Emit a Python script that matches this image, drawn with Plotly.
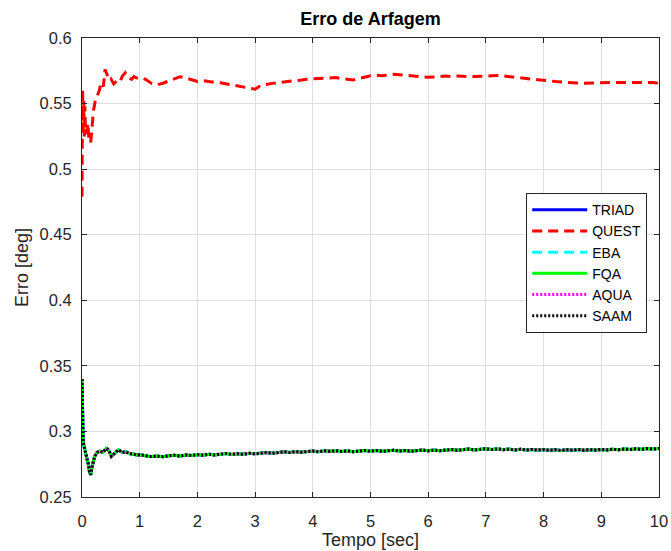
import plotly.graph_objects as go

# ---------------- data ----------------
# QUEST (red dashed)
quest_t = [0, 0.005, 0.01, 0.02, 0.03, 0.04, 0.05, 0.06, 0.08, 0.10, 0.12, 0.15, 0.17,
           0.20, 0.23, 0.27, 0.30, 0.33, 0.37, 0.40, 0.43, 0.47, 0.50, 0.55, 0.60, 0.65,
           0.70, 0.75, 0.80, 0.86, 0.90, 0.95,
           1.0, 1.1, 1.2, 1.3, 1.4, 1.5, 1.6, 1.7, 1.8, 1.9,
           2.0, 2.1, 2.2, 2.3, 2.4, 2.5, 2.6, 2.7, 2.8, 2.9,
           3.0, 3.1, 3.2, 3.3, 3.4, 3.5, 3.6, 3.7, 3.8, 3.9,
           4.0, 4.1, 4.2, 4.3, 4.4, 4.5, 4.6, 4.7, 4.8, 4.9,
           5.0, 5.1, 5.2, 5.3, 5.4, 5.5, 5.6, 5.7, 5.8, 5.9,
           6.0, 6.1, 6.2, 6.3, 6.4, 6.5, 6.6, 6.7, 6.8, 6.9,
           7.0, 7.1, 7.2, 7.3, 7.4, 7.5, 7.6, 7.7, 7.8, 7.9,
           8.0, 8.1, 8.2, 8.3, 8.4, 8.5, 8.6, 8.7, 8.8, 8.9,
           9.0, 9.1, 9.2, 9.3, 9.4, 9.5, 9.6, 9.7, 9.8, 9.9, 10.0]
quest_v = [0.479, 0.500, 0.562, 0.530, 0.552, 0.525, 0.548, 0.530, 0.527, 0.535, 0.523, 0.520, 0.530,
           0.545, 0.552, 0.556, 0.560, 0.566, 0.563, 0.576, 0.572, 0.568, 0.569, 0.565, 0.567, 0.566,
           0.571, 0.5735, 0.570, 0.5685, 0.5705, 0.5695,
           0.5700, 0.5685, 0.5655, 0.5642, 0.5655, 0.5672, 0.5690, 0.5705, 0.5695, 0.5680,
           0.5668, 0.5674, 0.5666, 0.5662, 0.5658, 0.5650, 0.5644, 0.5636, 0.5628, 0.5618,
           0.5610, 0.5640, 0.5649, 0.5654, 0.5660, 0.5664, 0.5667, 0.5672, 0.5680, 0.5686,
           0.5689, 0.5693, 0.5697, 0.5700, 0.5698, 0.5690, 0.5684, 0.5680, 0.5692, 0.5703,
           0.5712, 0.5716, 0.5712, 0.5718, 0.5723, 0.5720, 0.5716, 0.5712, 0.5708, 0.5704,
           0.5700, 0.5703, 0.5707, 0.5710, 0.5706, 0.5710, 0.5708, 0.5704, 0.5706, 0.5705,
           0.5709, 0.5713, 0.5715, 0.5711, 0.5705, 0.5699, 0.5693, 0.5689, 0.5686, 0.5682,
           0.5680, 0.5674, 0.5668, 0.5664, 0.5660, 0.5657, 0.5656, 0.5655, 0.5657, 0.5659,
           0.5660, 0.5661, 0.5662, 0.5661, 0.5662, 0.5661, 0.5660, 0.5660, 0.5661, 0.5660, 0.5655]

# TRIAD, EBA, FQA, AQUA, SAAM (overlapping lower curves)
lower_t = [0, 0.01, 0.02, 0.05, 0.08, 0.11, 0.13, 0.15, 0.18, 0.22, 0.26, 0.31, 0.36, 0.42,
           0.46, 0.51, 0.56, 0.63, 0.70, 0.76, 0.83, 0.90, 0.95,
           1.0, 1.1, 1.2, 1.3, 1.4, 1.5, 1.6, 1.7, 1.8, 1.9,
           2.0, 2.1, 2.2, 2.3, 2.4, 2.5, 2.6, 2.7, 2.8, 2.9,
           3.0, 3.1, 3.2, 3.3, 3.4, 3.5, 3.6, 3.7, 3.8, 3.9,
           4.0, 4.1, 4.2, 4.3, 4.4, 4.5, 4.6, 4.7, 4.8, 4.9,
           5.0, 5.1, 5.2, 5.3, 5.4, 5.5, 5.6, 5.7, 5.8, 5.9,
           6.0, 6.1, 6.2, 6.3, 6.4, 6.5, 6.6, 6.7, 6.8, 6.9,
           7.0, 7.1, 7.2, 7.3, 7.4, 7.5, 7.6, 7.7, 7.8, 7.9,
           8.0, 8.1, 8.2, 8.3, 8.4, 8.5, 8.6, 8.7, 8.8, 8.9,
           9.0, 9.1, 9.2, 9.3, 9.4, 9.5, 9.6, 9.7, 9.8, 9.9, 10.0]
triad_v = [0.340, 0.318, 0.292, 0.286, 0.281, 0.275, 0.269, 0.267, 0.274, 0.281, 0.284, 0.285, 0.284,
           0.287, 0.286, 0.281, 0.283, 0.286, 0.284, 0.2845, 0.2830, 0.2828, 0.2818,
           0.2822, 0.2815, 0.2808, 0.2812, 0.2807, 0.2814, 0.2818, 0.2812, 0.2820, 0.2816,
           0.2823, 0.2819, 0.2826, 0.2821, 0.2828, 0.2832, 0.2825, 0.2830, 0.2826, 0.2833,
           0.2829, 0.2836, 0.2840, 0.2834, 0.2841, 0.2845, 0.2839, 0.2846, 0.2842, 0.2849,
           0.2851, 0.2845, 0.2852, 0.2848, 0.2853, 0.2847, 0.2852, 0.2846, 0.2851, 0.2855,
           0.2849, 0.2854, 0.2848, 0.2853, 0.2857, 0.2850, 0.2855, 0.2849, 0.2854, 0.2858,
           0.2852, 0.2858, 0.2853, 0.2859, 0.2862, 0.2856, 0.2861, 0.2865, 0.2859, 0.2866,
           0.2868, 0.2862, 0.2867, 0.2861, 0.2865, 0.2859, 0.2864, 0.2858, 0.2863, 0.2857,
           0.2862, 0.2856, 0.2861, 0.2855, 0.2860, 0.2857, 0.2862, 0.2856, 0.2861, 0.2858,
           0.2863, 0.2859, 0.2864, 0.2860, 0.2866, 0.2862, 0.2867, 0.2864, 0.2869, 0.2866, 0.2870]
# the other four algorithms lie on top of TRIAD (indistinguishable in the picture)
eba_v = triad_v
fqa_v = triad_v
aqua_v = triad_v
saam_v = triad_v

x_ticks = [0, 1, 2, 3, 4, 5, 6, 7, 8, 9, 10]
y_ticks = [0.25, 0.3, 0.35, 0.4, 0.45, 0.5, 0.55, 0.6]
y_tick_text = ["0.25", "0.3", "0.35", "0.4", "0.45", "0.5", "0.55", "0.6"]

# ---------------- figure ----------------
FONT = "Liberation Sans, Arial, sans-serif"
TXT = "#262626"
fig = go.Figure()

series = [
    ("TRIAD", lower_t, triad_v, "#0000ff", "solid", 3),
    ("QUEST", quest_t, quest_v, "#ff0000", "10px,6px", 3),
    ("EBA", lower_t, eba_v, "#00ffff", "10px,6px", 3),
    ("FQA", lower_t, fqa_v, "#00ff00", "solid", 3),
    ("AQUA", lower_t, aqua_v, "#ff00ff", "2px,2px", 3),
    ("SAAM", lower_t, saam_v, "#000000", "2px,2px", 3),
]
for name, t, v, col, dash, w in series:
    fig.add_trace(go.Scatter(x=t, y=v, mode="lines", name=name,
                             line=dict(color=col, dash=dash, width=w)))

axis_common = dict(
    showline=True, linecolor=TXT, linewidth=1, mirror="ticks",
    ticks="inside", ticklen=5, tickcolor=TXT,
    showgrid=True, gridcolor="#dfdfdf", gridwidth=1, zeroline=False,
    tickfont=dict(family=FONT, size=16.5, color=TXT),
    automargin=False,
)
fig.update_xaxes(range=[0, 10], tickvals=x_ticks, ticklabelstandoff=9,
                 title=dict(text="Tempo [sec]", font=dict(family=FONT, size=18, color=TXT), standoff=2),
                 **axis_common)
fig.update_yaxes(range=[0.25, 0.6], tickvals=y_ticks, ticktext=y_tick_text, ticklabelstandoff=6,
                 title=dict(text="Erro [deg]", font=dict(family=FONT, size=18, color=TXT), standoff=6),
                 **axis_common)

fig.update_layout(
    width=671, height=551,
    margin=dict(l=82, r=12, t=38, b=54),
    paper_bgcolor="white", plot_bgcolor="white",
    title=dict(text="<b>Erro de Arfagem</b>", x=(82 + 659) / 2 / 671, xanchor="center",
               y=1 - 19 / 551, yanchor="middle",
               font=dict(family=FONT, size=18, color="#000000")),
    legend=dict(x=0.7699, y=0.662, xanchor="left", yanchor="top",
                bgcolor="white", bordercolor=TXT, borderwidth=1,
                font=dict(family=FONT, size=14, color="#000000"),
                tracegroupgap=0, itemwidth=55),
    showlegend=True,
)

fig.write_html("out.html")
